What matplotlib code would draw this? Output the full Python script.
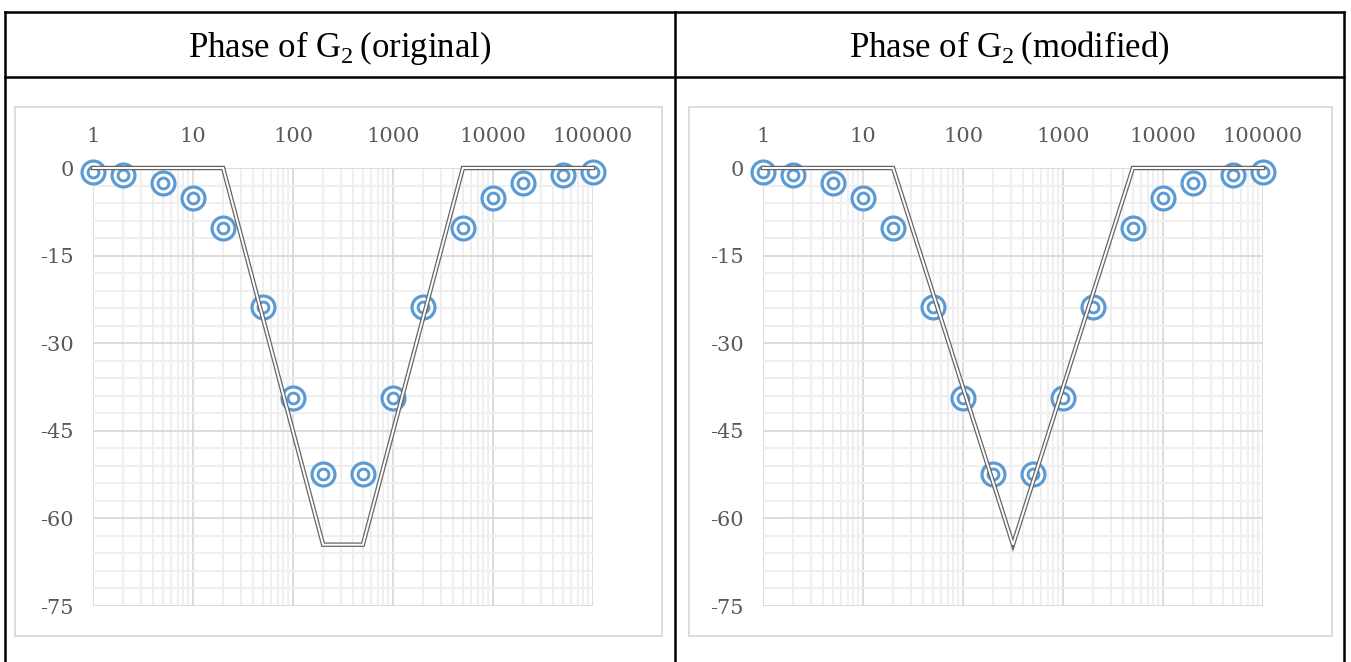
import numpy as np
import matplotlib
matplotlib.use("Agg")
import matplotlib.pyplot as plt
from matplotlib.lines import Line2D
from matplotlib.patches import Rectangle
from matplotlib.ticker import FixedLocator, FixedFormatter, LogLocator, NullFormatter

plt.rcParams["mathtext.fontset"] = "custom"
plt.rcParams["mathtext.rm"] = "Liberation Serif"

########################################################
# DATA

freq = [1, 2, 5, 10, 20, 50, 100, 200, 500, 1000, 2000, 5000, 10000, 20000, 50000, 100000]
phase = [-0.7, -1.2, -2.6, -5.1, -10.3, -23.8, -39.4, -52.4,
         -52.4, -39.4, -23.8, -10.3, -5.1, -2.6, -1.2, -0.7]

# straight-line (asymptotic) approximations
asym_orig_f = [1, 20, 200, 500, 5000, 100000]
asym_orig_p = [0, 0, -64.5, -64.5, 0, 0]
asym_mod_f = [1, 20, 316, 5000, 100000]
asym_mod_p = [0, 0, -64.5, 0, 0]

titles = ["Phase of G$_\\mathrm{2}\\,$(original)", "Phase of G$_\\mathrm{2}\\,$(modified)"]
xtick_vals = [1, 10, 100, 1000, 10000, 100000]
xtick_labels = ["1", "10", "100", "1000", "10000", "100000"]
ytick_vals = [0, -15, -30, -45, -60, -75]
ytick_labels = ["0", "-15", "-30", "-45", "-60", "-75"]

########################################################
# FIGURE / TABLE FRAME

W, H = 1351, 662
fig = plt.figure(figsize=(W / 100, H / 100), dpi=100)
fig.patch.set_facecolor("white")


def fx(px):
    return px / W


def fy(py):
    return 1 - py / H


def hline(x0, x1, y, **kw):
    fig.add_artist(Line2D([fx(x0), fx(x1)], [fy(y), fy(y)], **kw))


def vline(x, y0, y1, **kw):
    fig.add_artist(Line2D([fx(x), fx(x)], [fy(y0), fy(y1)], **kw))


tbl = dict(color="black", lw=1.8, solid_capstyle="projecting")
hline(5, 1344, 12, **tbl)
hline(5, 1344, 77, **tbl)
vline(5, 12, 670, **tbl)
vline(675, 12, 670, **tbl)
vline(1344, 12, 670, **tbl)

for title, cx in zip(titles, [340, 1009]):
    fig.text(fx(cx), fy(57), title, ha="center", va="baseline",
             fontsize=25, family="Liberation Serif", color="black")

# chart boxes
for x0, x1 in [(15, 662), (689, 1332)]:
    fig.add_artist(Rectangle((fx(x0), fy(636)), fx(x1 - x0), (636 - 107) / H,
                             fill=False, edgecolor="#d9d9d9", lw=1.3))

########################################################
# PLOTS

blue = "#5b9bd5"


def draw_panel(left_px, af, ap):
    ax = fig.add_axes([fx(left_px), fy(606), fx(500), 438 / H])
    ax.set_xscale("log")
    ax.set_xlim(1, 100000)
    ax.set_ylim(-75, 0)

    ax.xaxis.set_major_locator(FixedLocator(xtick_vals))
    ax.xaxis.set_major_formatter(FixedFormatter(xtick_labels))
    ax.xaxis.set_minor_locator(LogLocator(base=10, subs=np.arange(2, 10)))
    ax.xaxis.set_minor_formatter(NullFormatter())
    ax.yaxis.set_major_locator(FixedLocator(ytick_vals))
    ax.yaxis.set_major_formatter(FixedFormatter(ytick_labels))
    ax.yaxis.set_minor_locator(FixedLocator(np.arange(-75, 1, 3)))

    ax.xaxis.tick_top()
    ax.tick_params(which="both", length=0)
    ax.tick_params(axis="x", pad=16)
    ax.tick_params(axis="y", pad=14)
    for lab in ax.get_xticklabels() + ax.get_yticklabels():
        lab.set_family("DejaVu Serif")
        lab.set_fontsize(15)
        lab.set_color("#595959")

    ax.grid(which="minor", color="#efefef", lw=1.5)
    ax.grid(which="major", color="#d9d9d9", lw=1.3)
    ax.set_axisbelow(True)
    for s in ax.spines.values():
        s.set_visible(False)

    # measured phase: double ring markers
    ax.plot(freq, phase, ls="none", marker="o", ms=16.5, mfc="white",
            mec=blue, mew=2.3, clip_on=False, zorder=3)
    ax.plot(freq, phase, ls="none", marker="o", ms=7.8, mfc="white",
            mec=blue, mew=2.1, clip_on=False, zorder=3)

    # asymptotes drawn as a double line
    ax.plot(af, ap, color="#666666", lw=3.2, solid_joinstyle="miter",
            clip_on=False, zorder=4)
    ax.plot(af, ap, color="white", lw=1.4, solid_joinstyle="miter",
            clip_on=False, zorder=5)
    return ax


draw_panel(93, asym_orig_f, asym_orig_p)
draw_panel(763, asym_mod_f, asym_mod_p)

fig.savefig("out.png", dpi=100, facecolor="white")
